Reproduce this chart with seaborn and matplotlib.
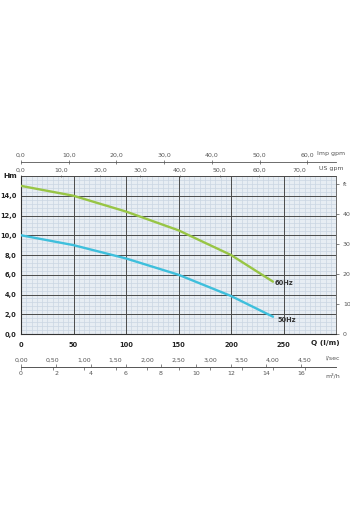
import numpy as np
import pandas as pd
import matplotlib
matplotlib.use("Agg")
import matplotlib.pyplot as plt
import seaborn as sns
from matplotlib.ticker import FixedLocator, FuncFormatter, MultipleLocator

# ---- data ----
q_60 = [0, 50, 100, 150, 200, 240]
h_60 = [15.0, 14.0, 12.4, 10.5, 8.0, 5.3]
q_50 = [0, 50, 100, 150, 200, 240]
h_50 = [10.0, 9.0, 7.65, 6.0, 3.85, 1.75]
series_names = ["60Hz", "50Hz"]

q_ticks = [0, 50, 100, 150, 200, 250]
h_ticks = [0, 2, 4, 6, 8, 10, 12, 14]
ft_ticks = [0, 10, 20, 30, 40, 50]
imp_ticks = [0, 10, 20, 30, 40, 50, 60]
us_ticks = [0, 10, 20, 30, 40, 50, 60, 70]
ls_ticks = [0, 0.5, 1.0, 1.5, 2.0, 2.5, 3.0, 3.5, 4.0, 4.5]
m3h_ticks = [0, 2, 4, 6, 8, 10, 12, 14, 16]

df = pd.concat([
    pd.DataFrame({"Q": q_60, "H": h_60, "f": series_names[0]}),
    pd.DataFrame({"Q": q_50, "H": h_50, "f": series_names[1]}),
])

sns.set_theme(style="white")
plt.rcParams["font.family"] = ["DejaVu Sans"]

fig = plt.figure(figsize=(3.5, 5.3), dpi=100)
ax = fig.add_axes([0.06, 0.3698, 0.9, 0.2981])
ax.set_facecolor("#e7edf3")

sns.lineplot(data=df, x="Q", y="H", hue="f",
             palette={"60Hz": "#98c545", "50Hz": "#3ebfdc"},
             linewidth=1.7, legend=False, ax=ax, zorder=5)

ax.set_xlim(0, 300)
ax.set_ylim(0, 16)
ax.set_xlabel("")
ax.set_ylabel("")

# fine grid (minor) + strong grid (major, drawn above the fine one)
ax.xaxis.set_minor_locator(MultipleLocator(5))
ax.yaxis.set_minor_locator(MultipleLocator(0.4))
ax.grid(which="minor", color="#cad6e2", linewidth=0.5)
ax.grid(which="major", visible=False)
ax.xaxis.set_major_locator(FixedLocator(q_ticks))
ax.yaxis.set_major_locator(FixedLocator(h_ticks))
for q in q_ticks[1:] + [300]:
    ax.axvline(q, color="#4a4a4a", linewidth=0.7, zorder=2)
for h in h_ticks[1:] + [16]:
    ax.axhline(h, color="#4a4a4a", linewidth=0.7, zorder=2)
ax.set_axisbelow(True)
for s in ax.spines.values():
    s.set_visible(False)
for side in ("left", "bottom"):
    ax.spines[side].set_visible(True)
    ax.spines[side].set_color("#333333")
    ax.spines[side].set_linewidth(0.8)

ax.xaxis.set_major_formatter(FuncFormatter(lambda v, p: f"{int(v)}"))
ax.yaxis.set_major_formatter(FuncFormatter(lambda v, p: f"{v:.1f}".replace(".", ",")))
ax.tick_params(axis="both", which="major", labelsize=4.8, colors="#222222",
               length=2, width=0.6, pad=1.5)
ax.tick_params(axis="both", which="minor", length=0)
ax.tick_params(axis="x", pad=4)
for lab in ax.get_xticklabels() + ax.get_yticklabels():
    lab.set_fontweight("bold")

ax.text(-0.035, 1.0, "Hm", transform=ax.transAxes, fontsize=5.3, fontweight="bold",
        ha="center", va="center", color="#222222")
ax.text(0.965, -0.06, "Q (l/m)", transform=ax.transAxes, fontsize=5.3, fontweight="bold",
        ha="center", va="center", color="#222222")

# curve labels
ax.text(q_60[-1] + 2, h_60[-1] - 0.1, "60Hz", fontsize=4.8, fontweight="bold",
        ha="left", va="center", color="#333333", zorder=6)
ax.text(q_50[-1] + 4, h_50[-1] - 0.35, "50Hz", fontsize=4.8, fontweight="bold",
        ha="left", va="center", color="#333333", zorder=6)

sec_color = "#555555"
fmt1 = FuncFormatter(lambda v, p: f"{v:.1f}".replace(".", ","))
fmt2 = FuncFormatter(lambda v, p: f"{v:.2f}".replace(".", ","))

# right axis: ft
m2ft = (lambda m: m * 3.2808, lambda f: f / 3.2808)
ay = ax.secondary_yaxis("right", functions=m2ft)
ay.yaxis.set_major_locator(FixedLocator(ft_ticks))
ay.yaxis.set_major_formatter(FuncFormatter(lambda v, p: "ft" if v >= 50 else f"{int(v)}"))
ay.tick_params(labelsize=4.5, colors=sec_color, length=2, width=0.5, pad=3)
ay.spines["right"].set_color("#555555")
ay.spines["right"].set_linewidth(0.6)

# top: US gpm (on top spine)
lpm2us = (lambda q: q / 3.7854, lambda g: g * 3.7854)
aus = ax.secondary_xaxis("top", functions=lpm2us)
aus.xaxis.set_major_locator(FixedLocator(us_ticks))
aus.xaxis.set_major_formatter(fmt1)
aus.tick_params(labelsize=4.5, colors=sec_color, length=2, width=0.5, pad=1.5,
                direction="inout")
aus.spines["top"].set_color("#555555")
aus.spines["top"].set_linewidth(0.6)
ax.text(0.985, 1.045, "US gpm", transform=ax.transAxes, fontsize=4.5, color=sec_color,
        ha="center", va="center")

# top: Imp gpm (raised line)
lpm2imp = (lambda q: q / 4.5461, lambda g: g * 4.5461)
aimp = ax.secondary_xaxis(1.089, functions=lpm2imp)
aimp.xaxis.set_major_locator(FixedLocator(imp_ticks))
aimp.xaxis.set_major_formatter(fmt1)
aimp.tick_params(labelsize=4.5, colors=sec_color, length=2.5, width=0.5, pad=2,
                 direction="inout")
for s in aimp.spines.values():
    s.set_color("#555555")
    s.set_linewidth(0.6)
ax.text(0.985, 1.14, "Imp gpm", transform=ax.transAxes, fontsize=4.5, color=sec_color,
        ha="center", va="center")

# bottom: l/sec and m3/h on a shared line
loc_b = -(367 - 334) / 158
lpm2ls = (lambda q: q / 60.0, lambda s: s * 60.0)
als = ax.secondary_xaxis(loc_b, functions=lpm2ls)
als.set_alignment("top")
als.xaxis.set_major_locator(FixedLocator(ls_ticks))
als.xaxis.set_major_formatter(fmt2)
als.tick_params(labelsize=4.5, colors=sec_color, length=2, width=0.5, pad=3,
                direction="in")
for s in als.spines.values():
    s.set_color("#555555")
    s.set_linewidth(0.6)
ax.text(0.99, loc_b + 0.055, "l/sec", transform=ax.transAxes, fontsize=4.5,
        color=sec_color, ha="center", va="center")

lpm2m3h = (lambda q: q * 0.06, lambda m: m / 0.06)
am3 = ax.secondary_xaxis(loc_b, functions=lpm2m3h)
am3.set_alignment("bottom")
am3.xaxis.set_major_locator(FixedLocator(m3h_ticks))
am3.xaxis.set_major_formatter(FuncFormatter(lambda v, p: f"{int(v)}"))
am3.tick_params(labelsize=4.5, colors=sec_color, length=2, width=0.5, pad=3,
                direction="in")
for s in am3.spines.values():
    s.set_color("#555555")
    s.set_linewidth(0.6)
ax.text(0.99, loc_b - 0.055, "m³/h", transform=ax.transAxes, fontsize=4.5,
        color=sec_color, ha="center", va="center")

fig.savefig("out.png", dpi=100, facecolor="white")
